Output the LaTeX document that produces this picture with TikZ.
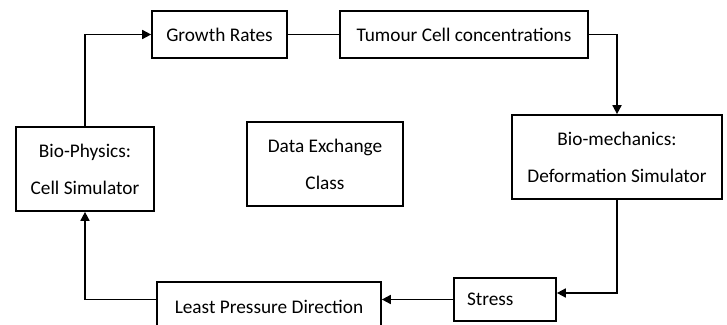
\documentclass[tikz,border=0pt]{standalone}
\usepackage{fontspec}
\setmainfont{Carlito}
\usetikzlibrary{arrows.meta}

\begin{document}
\begin{tikzpicture}[x = 1pt, y = 1pt,
		box/.style = {draw, line width = 1.7pt, inner sep = 0pt, align = center, font = \fontsize{19.3}{37}\selectfont},
		link/.style = {line width = 1.7pt},
		arrow/.style = {link, -{Triangle[length = 9pt, width = 9pt]}}]
	
		\useasboundingbox (0, 0) rectangle (727, 324);
		
		\node[box, minimum width = 135pt, minimum height = 47pt] (growth) at (219.5, 289.5) {Growth Rates};
		\node[box, minimum width = 248pt, minimum height = 47pt] (tumour) at (464, 289.5) {Tumour Cell concentrations};
		\node[box, minimum width = 210pt, minimum height = 84pt] (biomech) at (617, 167) {Bio-mechanics:\\Deformation Simulator};
		\node[box, minimum width = 138pt, minimum height = 84pt] (biophys) at (85, 155) {Bio-Physics:\\Cell Simulator};
		\node[box, minimum width = 156pt, minimum height = 84pt] (data) at (325, 160) {Data Exchange\\Class};
		\node[box, inner xsep = 13pt, text width = 76pt, align = left, minimum height = 43pt] (stress) at (505, 24.5) {Stress};
		\node[box, minimum width = 224pt, minimum height = 50pt] (lpd) at (269, 17) {Least Pressure Direction};
		
		\draw[arrow] (biophys.north) |- (growth.west);
		\draw[link] (growth.east) -- (tumour.west);
		\draw[arrow] (tumour.east) -| (biomech.north);
		\draw[arrow] (biomech.south) |- ([yshift = 6.5pt]stress.east);
		\draw[arrow] (stress.west) -- (stress.west -| lpd.east);
		\draw[arrow] (lpd.west |- stress.west) -| (biophys.south);
		
	\end{tikzpicture}
\end{document}
